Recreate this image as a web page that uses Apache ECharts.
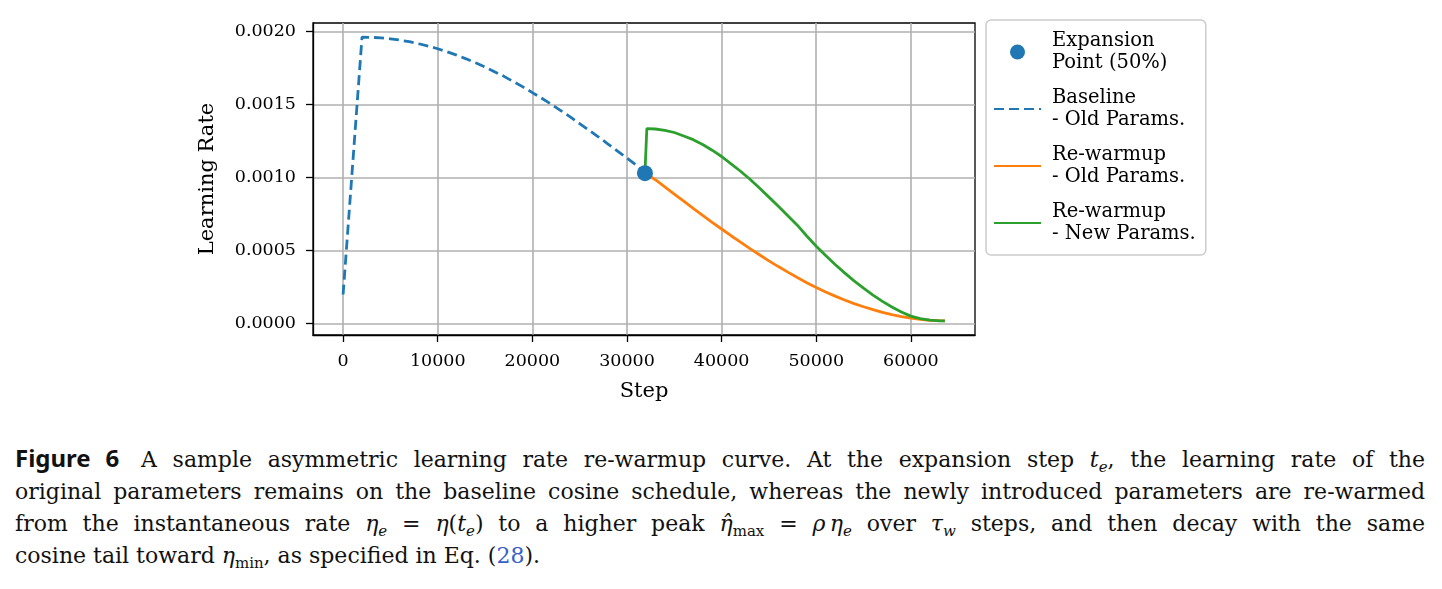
<!doctype html>
<html lang="en">

<head>
  <meta charset="utf-8">
  <title>Learning rate re-warmup</title>
  <script src="https://cdn.jsdelivr.net/npm/echarts@6/dist/echarts.min.js"></script>
  <style>
    html, body {
      margin: 0;
      padding: 0;
      background: #fff;
      width: 1442px;
      height: 589px;
      overflow: hidden;
    }

    #chart {
      position: absolute;
      left: 0;
      top: 0;
      width: 1442px;
      height: 420px;
    }

    .caption {
      position: absolute;
      left: 15px;
      top: 442px;
      width: 1410px;
      font-family: "DejaVu Serif", serif;
      font-size: 22px;
      line-height: 32px;
      color: #111;
    }

    .caption div {
      text-align: justify;
      text-align-last: justify;
      white-space: nowrap;
    }

    .caption div.last {
      text-align-last: left;
    }

    .caption b {
      font-family: "Noto Sans", sans-serif;
      font-weight: 700;
      font-size: 24px;
      margin-right: 6px;
    }

    .caption sub {
      font-size: 15px;
      line-height: 0;
    }

    .ref {
      color: #3a5fc8;
    }
  </style>
</head>

<body>
  <div id="chart"></div>

  <div class="caption">
    <div><b>Figure 6</b> A sample asymmetric learning rate re-warmup curve. At the expansion step <i>t</i><sub><i>e</i></sub>, the learning rate of the</div>
    <div>original parameters remains on the baseline cosine schedule, whereas the newly introduced parameters are re-warmed</div>
    <div>from the instantaneous rate <i>η</i><sub><i>e</i></sub>&nbsp;=&nbsp;<i>η</i>(<i>t</i><sub><i>e</i></sub>) to a higher peak <i>η̂</i><sub>max</sub>&nbsp;=&nbsp;<i>ρ</i>&thinsp;<i>η</i><sub><i>e</i></sub> over <i>τ</i><sub><i>w</i></sub> steps, and then decay with the same</div>
    <div class="last">cosine tail toward <i>η</i><sub>min</sub>, as specified in Eq. (<span class="ref">28</span>).</div>
  </div>

  <script>
    // values (step, learning rate)
    var baselineSteps = [0, 2000, 3000, 4000, 5000, 6000, 7000, 8000, 9000, 10000, 11000, 12000, 13000, 14000, 15000, 16000,
      17000, 18000, 19000, 20000, 21000, 22000, 23000, 24000, 25000, 26000, 27000, 28000, 29000, 30000, 31000, 31900];
    var baselineLR = [0.0002, 0.00196, 0.001959, 0.001955, 0.001949, 0.00194, 0.001929, 0.001915, 0.001899, 0.001881, 0.00186, 0.001837, 0.001812, 0.001785, 0.001756, 0.001724,
      0.001692, 0.001656, 0.00162, 0.001581, 0.001542, 0.001501, 0.001458, 0.001415, 0.001369, 0.001323, 0.001277, 0.001229, 0.001181, 0.001133, 0.001084, 0.00103];

    var oldSteps = [31900, 33000, 34000, 35000, 36000, 37000, 38000, 39000, 40000, 41000, 42000, 43000, 44000, 45000, 46000, 47000, 48000,
      49000, 50000, 51000, 52000, 53000, 54000, 55000, 56000, 57000, 58000, 59000, 60000, 61000, 62000, 63000, 63600];
    var oldLR = [0.00103, 0.000985, 0.000936, 0.000887, 0.000838, 0.000789, 0.000741, 0.000694, 0.000648, 0.000602, 0.000558, 0.000514, 0.000472, 0.00043, 0.000391, 0.000353, 0.000316,
      0.000281, 0.000248, 0.000217, 0.000189, 0.000162, 0.000138, 0.000116, 0.000096, 0.000078, 0.000062, 0.000049, 0.000038, 0.00003, 0.000024, 0.000021, 0.00002];

    var newSteps = [31900, 32100, 33000, 34000, 35000, 36000, 37000, 38000, 39000, 40000, 41000, 42000, 43000, 44000, 45000, 46000, 47000, 48000,
      49000, 50000, 51000, 52000, 53000, 54000, 55000, 56000, 57000, 58000, 59000, 60000, 61000, 62000, 63000, 63600];
    var newLR = [0.00103, 0.001335, 0.001332, 0.001323, 0.001308, 0.001284, 0.001259, 0.001226, 0.001187, 0.001144, 0.001093, 0.001043, 0.000988, 0.000928, 0.000866, 0.000804, 0.000739, 0.000674,
      0.0006, 0.00053, 0.000467, 0.000405, 0.000348, 0.000293, 0.000243, 0.000196, 0.000153, 0.000115, 0.00008, 0.000052, 0.000035, 0.000025, 0.00002, 0.00002];

    var expansionStep = [31900];
    var expansionLR = [0.00103];

    var xTicks = [0, 10000, 20000, 30000, 40000, 50000, 60000];
    var yTicks = [0, 0.0005, 0.0010, 0.0015, 0.0020];

    var names = ['Expansion\nPoint (50%)', 'Baseline\n- Old Params.', 'Re-warmup\n- Old Params.', 'Re-warmup\n- New Params.'];

    function pairs(xs, ys) {
      var out = [];
      for (var i = 0; i < xs.length; i++) out.push([xs[i], ys[i]]);
      return out;
    }

    var font = 'DejaVu Serif';
    var gridColor = '#b0b0b0';

    var myChart = echarts.init(document.getElementById('chart'));

    var option = {
      animation: false,
      grid: {
        left: 313,
        top: 23,
        width: 662,
        height: 312,
        show: true,
        borderColor: '#000',
        borderWidth: 1.3,
        backgroundColor: 'transparent'
      },
      legend: {
        // line entries: hide the marker dot, keep the line
        data: [
          { name: names[0] },
          { name: names[1], itemStyle: { opacity: 0 } },
          { name: names[2], itemStyle: { opacity: 0 } },
          { name: names[3], itemStyle: { opacity: 0 } }
        ],
        orient: 'vertical',
        left: 986,
        top: 20,
        itemWidth: 47,
        itemHeight: 15,
        itemGap: 13,
        padding: [10, 10, 10, 7],
        borderColor: '#cccccc',
        borderWidth: 1.5,
        borderRadius: 5,
        backgroundColor: '#fff',
        textStyle: {
          fontFamily: font,
          fontSize: 19.5,
          lineHeight: 22,
          color: '#000',
          padding: [0, 0, 0, 6]
        }
      },
      xAxis: {
        type: 'value',
        min: -3180,
        max: 66780,
        name: 'Step',
        nameLocation: 'middle',
        nameGap: 46,
        nameTextStyle: { fontFamily: font, fontSize: 21, color: '#000' },
        axisLine: { show: true, onZero: false, lineStyle: { color: '#000', width: 1.3 } },
        axisTick: { show: true, length: 7, customValues: xTicks, lineStyle: { color: '#000', width: 1.3 } },
        axisLabel: {
          customValues: xTicks,
          margin: 17,
          fontFamily: font,
          fontSize: 17.5,
          color: '#000',
          formatter: function (v) { return String(v); }
        },
        splitLine: { show: true, customValues: xTicks, lineStyle: { color: gridColor, width: 1.6 } }
      },
      yAxis: {
        type: 'value',
        min: -0.000077,
        max: 0.002057,
        name: 'Learning Rate',
        nameLocation: 'middle',
        nameRotate: 90,
        nameGap: 95,
        nameTextStyle: { fontFamily: font, fontSize: 21, color: '#000' },
        axisLine: { show: true, onZero: false, lineStyle: { color: '#000', width: 1.3 } },
        axisTick: { show: true, length: 7, customValues: yTicks, lineStyle: { color: '#000', width: 1.3 } },
        axisLabel: {
          customValues: yTicks,
          margin: 17,
          fontFamily: font,
          fontSize: 17.5,
          color: '#000',
          formatter: function (v) { return v.toFixed(4); }
        },
        splitLine: { show: true, customValues: yTicks, lineStyle: { color: gridColor, width: 1.6 } }
      },
      series: [
        {
          name: names[0],
          type: 'scatter',
          data: pairs(expansionStep, expansionLR),
          symbol: 'circle',
          symbolSize: 16,
          itemStyle: { color: '#1f77b4', opacity: 1 },
          z: 10
        },
        {
          name: names[1],
          type: 'line',
          data: pairs(baselineSteps, baselineLR),
          symbol: 'none',
          lineStyle: { color: '#1f77b4', width: 2.8, type: [10, 5] },
          itemStyle: { color: '#1f77b4' },
          z: 3
        },
        {
          name: names[2],
          type: 'line',
          data: pairs(oldSteps, oldLR),
          symbol: 'none',
          lineStyle: { color: '#ff7f0e', width: 2.8 },
          itemStyle: { color: '#ff7f0e' },
          z: 4
        },
        {
          name: names[3],
          type: 'line',
          data: pairs(newSteps, newLR),
          symbol: 'none',
          lineStyle: { color: '#2ca02c', width: 2.8 },
          itemStyle: { color: '#2ca02c' },
          z: 5
        }
      ]
    };

    myChart.setOption(option);
  </script>
</body>

</html>
